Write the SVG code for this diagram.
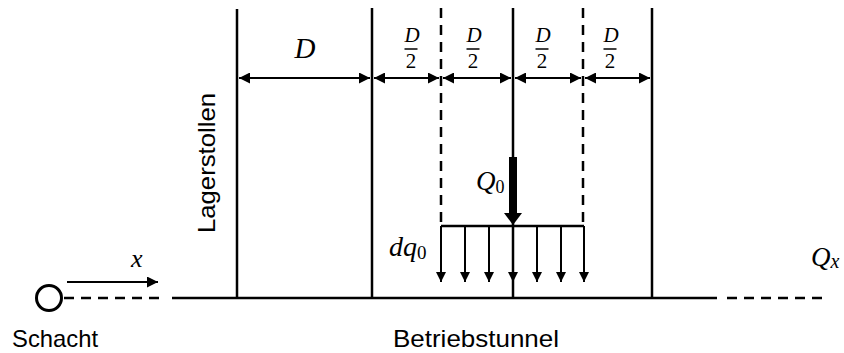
<svg xmlns="http://www.w3.org/2000/svg" width="844" height="353" viewBox="0 0 844 353">
<defs>
<style>
.ln{stroke:#000;stroke-width:2.5;fill:none}
.dim{stroke:#000;stroke-width:2;fill:none}
.dash{stroke:#000;stroke-width:2.5;fill:none;stroke-dasharray:10 7}
.sans{font-family:"Liberation Sans",Arial,sans-serif;font-size:24px;fill:#000}
.math{font-family:"Liberation Serif","Times New Roman",serif;font-style:italic;fill:#000}
.up{font-family:"Liberation Serif","Times New Roman",serif;font-style:normal;fill:#000}
</style>
<marker id="ah" viewBox="0 0 10 10" refX="10" refY="5" markerWidth="11" markerHeight="11" markerUnits="userSpaceOnUse" orient="auto-start-reverse">
<path d="M0,0 L10,5 L0,10 Z" fill="#000"/>
</marker>
<marker id="ad" viewBox="0 0 11 10" refX="10" refY="5" markerWidth="11" markerHeight="10" markerUnits="userSpaceOnUse" orient="auto">
<path d="M0,0 L10,5 L0,10 Z" fill="#000"/>
</marker>
</defs>
<rect width="844" height="353" fill="#fff"/>

<g id="tunnel">
<line class="ln" x1="172" y1="298" x2="717" y2="298"/>
<line class="dash" x1="64" y1="298" x2="166" y2="298"/>
<line class="dash" x1="727" y1="298" x2="825" y2="298"/>
</g>

<g id="schacht">
<circle cx="49" cy="298" r="12.5" stroke="#000" stroke-width="3" fill="#fff"/>
<text class="sans" x="12" y="347" textLength="86" lengthAdjust="spacingAndGlyphs">Schacht</text>
</g>

<g id="walls">
<line class="ln" x1="237" y1="9" x2="237" y2="298"/>
<line class="ln" x1="372" y1="8" x2="372" y2="298"/>
<line class="ln" x1="513" y1="8" x2="513" y2="298"/>
<line class="ln" x1="652" y1="8" x2="652" y2="298"/>
<line class="dash" x1="441" y1="8" x2="441" y2="226"/>
<line class="dash" x1="583" y1="8" x2="583" y2="226"/>
</g>

<g id="lager">
<text class="sans" transform="translate(215,163) rotate(-90)" text-anchor="middle" textLength="140" lengthAdjust="spacingAndGlyphs">Lagerstollen</text>
</g>

<g id="betrieb">
<text class="sans" x="393" y="347" textLength="166" lengthAdjust="spacingAndGlyphs">Betriebstunnel</text>
</g>

<g id="connectors">
<line class="dim" x1="239" y1="78" x2="370" y2="78" marker-start="url(#ah)" marker-end="url(#ah)"/>
<line class="dim" x1="374" y1="78" x2="439" y2="78" marker-start="url(#ah)" marker-end="url(#ah)"/>
<line class="dim" x1="443" y1="78" x2="511" y2="78" marker-start="url(#ah)" marker-end="url(#ah)"/>
<line class="dim" x1="515" y1="78" x2="581" y2="78" marker-start="url(#ah)" marker-end="url(#ah)"/>
<line class="dim" x1="585" y1="78" x2="650" y2="78" marker-start="url(#ah)" marker-end="url(#ah)"/>
<line class="dim" x1="67" y1="282" x2="158" y2="282" marker-end="url(#ah)"/>
<line class="ln" x1="441" y1="226" x2="584" y2="226"/>
<line class="dim" x1="441" y1="226" x2="441" y2="282" marker-end="url(#ad)"/>
<line class="dim" x1="465" y1="226" x2="465" y2="282" marker-end="url(#ad)"/>
<line class="dim" x1="489" y1="226" x2="489" y2="282" marker-end="url(#ad)"/>
<line class="dim" x1="513" y1="226" x2="513" y2="282" marker-end="url(#ad)"/>
<line class="dim" x1="537" y1="226" x2="537" y2="282" marker-end="url(#ad)"/>
<line class="dim" x1="561" y1="226" x2="561" y2="282" marker-end="url(#ad)"/>
<line class="dim" x1="584" y1="226" x2="584" y2="282" marker-end="url(#ad)"/>
<rect x="509" y="157" width="8" height="57" fill="#000"/>
<path d="M504,213 L522,213 L513,225 Z" fill="#000"/>
</g>

<g id="labels">
<text class="math" x="305" y="58" font-size="29" text-anchor="middle">D</text>
<g font-size="21">
<text class="math" x="412" y="42" text-anchor="middle">D</text>
<text class="up" x="411" y="68" text-anchor="middle">2</text>
<line x1="404.5" y1="49" x2="417.5" y2="49" stroke="#000" stroke-width="1.5"/>
<text class="math" x="474" y="42" text-anchor="middle">D</text>
<text class="up" x="473" y="68" text-anchor="middle">2</text>
<line x1="466.5" y1="49" x2="479.5" y2="49" stroke="#000" stroke-width="1.5"/>
<text class="math" x="543" y="42" text-anchor="middle">D</text>
<text class="up" x="542" y="68" text-anchor="middle">2</text>
<line x1="535.5" y1="49" x2="548.5" y2="49" stroke="#000" stroke-width="1.5"/>
<text class="math" x="611" y="42" text-anchor="middle">D</text>
<text class="up" x="610" y="68" text-anchor="middle">2</text>
<line x1="603.5" y1="49" x2="616.5" y2="49" stroke="#000" stroke-width="1.5"/>
</g>
<text class="math" x="476" y="190" font-size="27">Q<tspan class="up" font-size="18" dy="3">0</tspan></text>
<text class="math" x="389" y="256" font-size="28">dq<tspan class="up" font-size="19" dy="3">0</tspan></text>
<text class="math" x="811" y="266" font-size="27">Q<tspan font-size="20" dy="2">x</tspan></text>
<text class="math" x="131" y="267" font-size="26">x</text>
</g>
</svg>
